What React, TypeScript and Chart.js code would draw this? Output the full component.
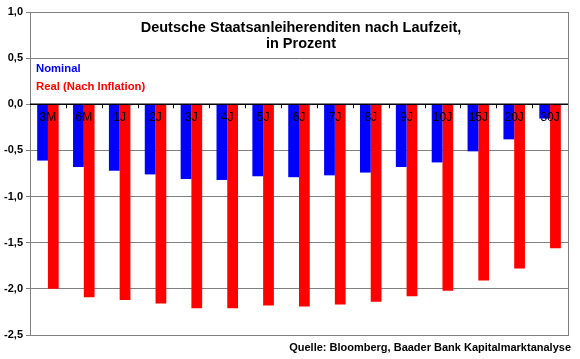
import { useEffect, useRef } from "react";
import { Chart, registerables } from "chart.js";
Chart.register(...registerables);

const categories = ["3M", "6M", "1J", "2J", "3J", "4J", "5J", "6J", "7J", "8J", "9J", "10J", "15J", "20J", "30J"];
const nominal = [-0.61, -0.68, -0.72, -0.76, -0.81, -0.82, -0.78, -0.79, -0.77, -0.74, -0.68, -0.63, -0.51, -0.38, -0.155];
const real = [-2.0, -2.09, -2.12, -2.16, -2.21, -2.21, -2.18, -2.19, -2.17, -2.14, -2.08, -2.02, -1.91, -1.78, -1.56];
const seriesNames = ["Nominal", "Real (Nach Inflation)"];
const seriesColors = ["#0000FF", "#FF0000"];
const titleLines = ["Deutsche Staatsanleiherenditen nach Laufzeit,", "in Prozent"];
const sourceText = "Quelle: Bloomberg, Baader Bank Kapitalmarktanalyse";
const yMin = -2.5;
const yMax = 1.0;
const yStep = 0.5;

const FONT = "Arial, 'Liberation Sans', sans-serif";

const overlayPlugin = {
  id: "overlay",
  afterDatasetsDraw(chart: any) {
    const { ctx, chartArea, scales } = chart;
    const x = scales.x;
    const y = scales.y;
    const y0 = y.getPixelForValue(0);
    ctx.save();
    // category tick marks on zero line
    ctx.strokeStyle = "#000";
    ctx.lineWidth = 1;
    const n = categories.length;
    const w = (chartArea.right - chartArea.left) / n;
    for (let i = 1; i < n; i++) {
      const px = Math.round(chartArea.left + i * w) + 0.5;
      ctx.beginPath();
      ctx.moveTo(px, y0);
      ctx.lineTo(px, y0 + 4);
      ctx.stroke();
    }
    // category labels
    ctx.fillStyle = "#000";
    ctx.font = `12px ${FONT}`;
    ctx.textAlign = "center";
    ctx.textBaseline = "middle";
    categories.forEach((c, i) => {
      ctx.fillText(c, x.getPixelForValue(i), y0 + 13);
    });
    // border
    ctx.strokeStyle = "#808080";
    ctx.lineWidth = 1;
    ctx.strokeRect(chartArea.left + 0.5, chartArea.top + 0.5, chartArea.right - chartArea.left, chartArea.bottom - chartArea.top);
    // zero line
    ctx.strokeStyle = "#000";
    ctx.lineWidth = 1.5;
    ctx.beginPath();
    ctx.moveTo(chartArea.left, y0);
    ctx.lineTo(chartArea.right, y0);
    ctx.stroke();
    // title
    const cx = (chartArea.left + chartArea.right) / 2 + 2;
    ctx.font = `bold 14.5px ${FONT}`;
    ctx.fillStyle = "#000";
    ctx.textAlign = "center";
    ctx.fillText(titleLines[0], cx, 28);
    ctx.fillText(titleLines[1], cx, 44);
    // legend
    ctx.textAlign = "left";
    ctx.font = `bold 11.3px ${FONT}`;
    ctx.fillStyle = seriesColors[0];
    ctx.fillText(seriesNames[0], 36, 69);
    ctx.fillStyle = seriesColors[1];
    ctx.fillText(seriesNames[1], 36, 87);
    // source
    ctx.fillStyle = "#000";
    ctx.textAlign = "right";
    ctx.font = `bold 11px ${FONT}`;
    ctx.fillText(sourceText, 571, 348);
    ctx.restore();
  },
};

export default function App() {
  const ref = useRef<HTMLCanvasElement>(null);
  useEffect(() => {
    document.body.style.margin = "0";
    const chart = new Chart(ref.current!, {
      type: "bar",
      data: {
        labels: categories,
        datasets: [
          { label: seriesNames[0], data: nominal, backgroundColor: seriesColors[0], categoryPercentage: 0.6, barPercentage: 1.0 },
          { label: seriesNames[1], data: real, backgroundColor: seriesColors[1], categoryPercentage: 0.6, barPercentage: 1.0 },
        ],
      },
      options: {
        animation: false,
        responsive: true,
        maintainAspectRatio: false,
        layout: { padding: { left: 0, top: 12, right: 12, bottom: 24 } },
        plugins: { legend: { display: false }, title: { display: false }, tooltip: { enabled: false } },
        scales: {
          x: { display: false },
          y: {
            min: yMin,
            max: yMax,
            afterFit: (s: any) => { s.width = 30; },
            ticks: {
              stepSize: yStep,
              color: "#000",
              padding: 3,
              font: { family: FONT, size: 11, weight: "bold" },
              callback: (v: any) => Number(v).toFixed(1).replace(".", ","),
            },
            grid: { color: "#808080", tickLength: 4, lineWidth: 1 },
            border: { color: "#808080" },
          },
        },
      },
      plugins: [overlayPlugin],
    });
    return () => chart.destroy();
  }, []);
  return (
    <div style={{ width: 580, height: 359, position: "relative" }}>
      <canvas ref={ref} />
    </div>
  );
}
